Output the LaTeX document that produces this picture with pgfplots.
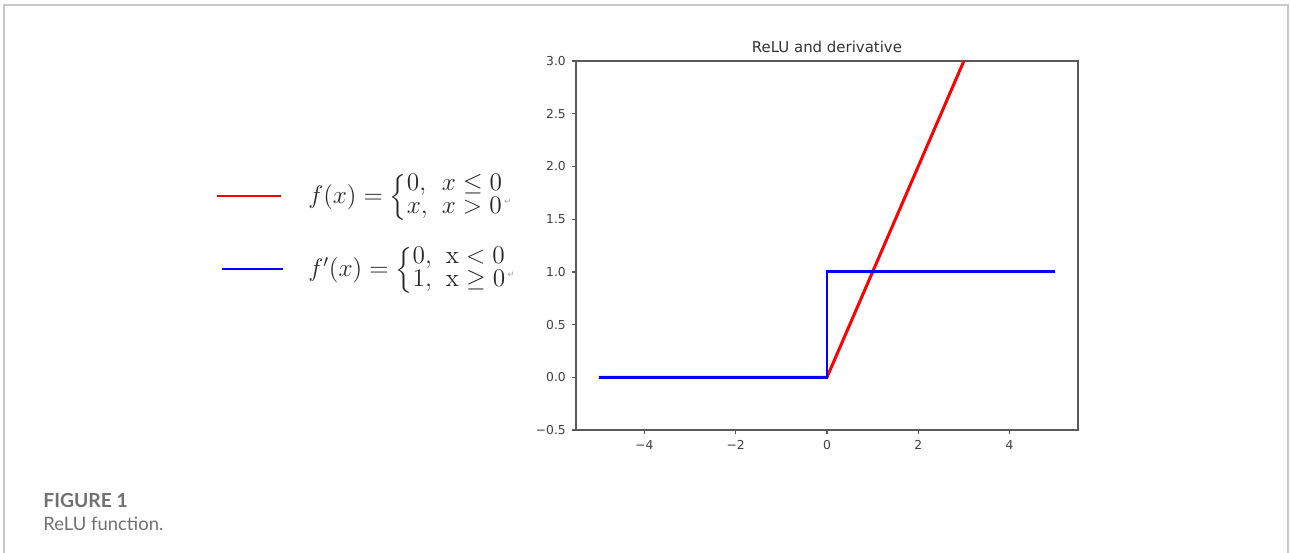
\documentclass[border=0pt]{standalone}
\usepackage{amsmath,amssymb}
\usepackage{fontspec}
\usepackage{pgfplots}
\pgfplotsset{compat=1.18}
\newfontfamily\dejavu{DejaVu Sans}
\newfontfamily\lato{Lato}
\definecolor{spine}{HTML}{5A5A5A}
\definecolor{capgray}{HTML}{707070}

\begin{document}
\begin{tikzpicture}[x=0.02cm, y=-0.02cm]
\useasboundingbox (0,0) rectangle (1290,552);
% outer frame
\draw[black!22, line width=0.9pt] (4,560) -- (4,5) -- (1288,5) -- (1288,560);
\coordinate (corner) at (576,430);

\begin{axis}[
  at={(corner)}, anchor=south west,
  width=10.04cm, height=7.38cm, scale only axis,
  xmin=-5.5, xmax=5.5, ymin=-0.5, ymax=3.0,
  xtick={-4,-2,0,2,4},
  xticklabels={−4,−2,0,2,4},
  ytick={-0.5,0,0.5,1,1.5,2,2.5,3},
  yticklabels={−0.5,0.0,0.5,1.0,1.5,2.0,2.5,3.0},
  tick label style={font=\dejavu\fontsize{7}{8}\selectfont, text=black!75},
  tick align=outside, tick pos=left,
  major tick length=0.08cm,
  every tick/.style={spine, line width=0.7pt},
  axis line style={spine, line width=1.1pt},
  title={ReLU and derivative},
  title style={font=\dejavu\fontsize{8.5}{10}\selectfont, text=black!80, yshift=-5pt},
  clip=true
]
\addplot[red, line width=1.7pt] coordinates {(-5,0) (0,0) (5,5)};
\addplot[blue, line width=1.6pt] coordinates {(-5,0) (0,0) (0,1) (5,1)};
\end{axis}

% legend
\draw[red, line width=1.6pt] (217,196) -- (281,196);
\draw[blue, line width=1.6pt] (222,269) -- (283,269);
\node[anchor=west, inner sep=0pt, font=\fontsize{14.5}{16}\selectfont, text=black!85] at (308,197)
  {$f(x)=\left\{\renewcommand{\arraystretch}{0.82}\begin{array}{@{}l@{\;\;}l@{}}0, & x\le 0\\ x, & x>0\end{array}\right.$\raisebox{-0.1ex}{\dejavu\fontsize{5}{5}\selectfont\color{black!35}↵}};
\node[anchor=west, inner sep=0pt, font=\fontsize{14.5}{16}\selectfont, text=black!85] at (308,270)
  {$f'(x)=\left\{\renewcommand{\arraystretch}{0.82}\begin{array}{@{}l@{\;\;}l@{}}0, & \mathrm{x}<0\\ 1, & \mathrm{x}\ge 0\end{array}\right.$\raisebox{-0.1ex}{\dejavu\fontsize{5}{5}\selectfont\color{black!35}↵}};

% caption
\node[anchor=base west, inner sep=0pt, font=\lato\bfseries\fontsize{11}{13}\selectfont, text=capgray] at (43,507) {FIGURE 1};
\node[anchor=base west, inner sep=0pt, font=\lato\fontsize{10.5}{13}\selectfont, text=capgray] at (43,530) {ReLU function.};
\end{tikzpicture}
\end{document}
